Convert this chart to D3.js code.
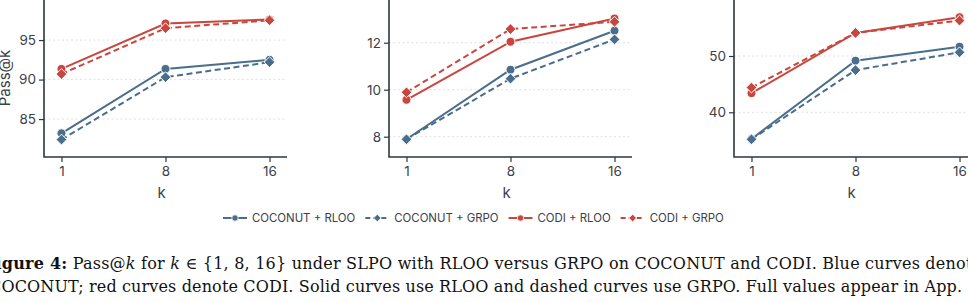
<!DOCTYPE html>
<html>
<head>
<meta charset="utf-8">
<script src="https://cdn.jsdelivr.net/npm/d3@7"></script>
<style>
  body { margin: 0; background: #fff; }
  svg { display: block; }
</style>
</head>
<body>
<div id="chart"></div>
<script>
// Chart size (same as the window)
var svgWidth = 968;
var svgHeight = 302;

// k values on the x axis
var ks = [1, 8, 16];

// Series names (legend order)
var seriesNames = ["COCONUT + RLOO", "COCONUT + GRPO", "CODI + RLOO", "CODI + GRPO"];

// Panel 1 values
var p1CoconutRloo = [83.2, 91.35, 92.5];
var p1CoconutGrpo = [82.4, 90.3, 92.2];
var p1CodiRloo = [91.35, 97.1, 97.6];
var p1CodiGrpo = [90.7, 96.5, 97.5];
var p1Ticks = [85, 90, 95];

// Panel 2 values
var p2CoconutRloo = [7.89, 10.85, 12.51];
var p2CoconutGrpo = [7.89, 10.47, 12.14];
var p2CodiRloo = [9.57, 12.04, 13.03];
var p2CodiGrpo = [9.89, 12.58, 12.89];
var p2Ticks = [8, 10, 12];

// Panel 3 values
var p3CoconutRloo = [35.26, 49.17, 51.65];
var p3CoconutGrpo = [35.2, 47.5, 50.65];
var p3CodiRloo = [43.4, 54.1, 56.9];
var p3CodiGrpo = [44.4, 54.1, 56.3];
var p3Ticks = [40, 50];

var blue = "#4a6d8c";
var red = "#c9463e";
var axisColor = "#2f3640";
var textColor = "#3d4148";
var sansFont = "Inter, 'Noto Sans', sans-serif";

// style of each series: colour, dashed or not, marker
var styles = [
  {color: blue, dash: null, marker: "circle"},
  {color: blue, dash: "6,3.5", marker: "diamond"},
  {color: red, dash: null, marker: "circle"},
  {color: red, dash: "6,3.5", marker: "diamond"}
];

var panels = [
  {left: 44, series: [p1CoconutRloo, p1CoconutGrpo, p1CodiRloo, p1CodiGrpo], domain: [80.2, 100.07], ticks: p1Ticks, ylabel: true},
  {left: 389, series: [p2CoconutRloo, p2CoconutGrpo, p2CodiRloo, p2CodiGrpo], domain: [7.136, 13.817], ticks: p2Ticks, ylabel: false},
  {left: 734, series: [p3CoconutRloo, p3CoconutGrpo, p3CodiRloo, p3CodiGrpo], domain: [32.06, 59.95], ticks: p3Ticks, ylabel: false}
];

var plotWidth = 243;
var plotBottom = 157;

var svg = d3.select("#chart").append("svg")
  .attr("width", svgWidth).attr("height", svgHeight);

function diamondPath(s) {
  return "M0," + (-s) + "L" + s + ",0L0," + s + "L" + (-s) + ",0Z";
}

function drawMarker(g, type, color) {
  if (type === "circle") {
    return g.append("circle").attr("r", 4.5)
      .attr("fill", color).attr("stroke", "#fff").attr("stroke-width", 1);
  }
  return g.append("path").attr("d", diamondPath(5.4))
    .attr("fill", color).attr("stroke", "#fff").attr("stroke-width", 1);
}

panels.forEach(function(p) {
  var g = svg.append("g").attr("transform", `translate(${p.left}, 0)`);

  var x = d3.scalePoint().domain(ks).range([0, plotWidth]).padding(0.168);
  var y = d3.scaleLinear().domain(p.domain).range([plotBottom, 0]);

  // dotted grid lines
  g.selectAll(".grid").data(p.ticks).enter().append("line")
    .attr("x1", 0).attr("x2", plotWidth)
    .attr("y1", d => y(d)).attr("y2", d => y(d))
    .attr("stroke", "#dcdcdc").attr("stroke-width", 0.9)
    .attr("stroke-dasharray", "2,2.5");

  // axes
  var yAxis = d3.axisLeft(y).tickValues(p.ticks).tickFormat(d3.format("d"))
    .tickSize(5).tickPadding(3);
  var yAxisDraw = g.append("g").call(yAxis);
  yAxisDraw.select(".domain").remove();

  var xAxis = d3.axisBottom(x).tickSize(5).tickPadding(4);
  var xAxisDraw = g.append("g").attr("transform", `translate(0, ${plotBottom})`).call(xAxis);
  xAxisDraw.select(".domain").remove();

  [yAxisDraw, xAxisDraw].forEach(function(a) {
    a.selectAll(".tick line").attr("stroke", axisColor).attr("stroke-width", 1.2);
    a.selectAll(".tick text").attr("fill", textColor)
      .style("font-family", sansFont).style("font-size", "13.5px");
  });

  // the L-shaped frame
  g.append("path")
    .attr("d", `M0,-10V${plotBottom}H${plotWidth}`)
    .attr("fill", "none").attr("stroke", axisColor).attr("stroke-width", 1.6);

  // x label
  g.append("text").attr("x", plotWidth / 2 - 4).attr("y", 197.5)
    .attr("text-anchor", "middle").attr("fill", textColor)
    .style("font-family", sansFont).style("font-size", "15px")
    .text("k");

  if (p.ylabel) {
    g.append("text")
      .attr("transform", `translate(${-34}, 78) rotate(-90)`)
      .attr("text-anchor", "middle").attr("fill", textColor)
      .style("font-family", sansFont).style("font-size", "15px")
      .text("Pass@k");
  }

  // lines and markers
  var line = d3.line().x((d, i) => x(ks[i])).y(d => y(d));
  p.series.forEach(function(values, si) {
    var st = styles[si];
    g.append("path").datum(values)
      .attr("d", line).attr("fill", "none")
      .attr("stroke", st.color).attr("stroke-width", 2)
      .attr("stroke-dasharray", st.dash);
    values.forEach(function(v, i) {
      var m = g.append("g").attr("transform", `translate(${x(ks[i])}, ${y(v)})`);
      drawMarker(m, st.marker, st.color);
    });
  });
});

// legend
var legend = svg.append("g").attr("transform", "translate(223, 218)");
var lx = 0;
seriesNames.forEach(function(name, i) {
  var st = styles[i];
  var item = legend.append("g").attr("transform", `translate(${lx}, 0)`);
  item.append("line").attr("x1", 0).attr("x2", 24).attr("y1", 0).attr("y2", 0)
    .attr("stroke", st.color).attr("stroke-width", 2)
    .attr("stroke-dasharray", st.dash ? "5,3" : null);
  var m = item.append("g").attr("transform", "translate(12, 0)");
  if (st.marker === "circle") {
    m.append("circle").attr("r", 3.2).attr("fill", st.color).attr("stroke", "#fff").attr("stroke-width", 0.8);
  } else {
    m.append("path").attr("d", diamondPath(3.8)).attr("fill", st.color).attr("stroke", "#fff").attr("stroke-width", 0.8);
  }
  var t = item.append("text").attr("x", 29).attr("y", 4.3)
    .attr("fill", textColor)
    .style("font-family", sansFont).style("font-size", "11.4px")
    .text(name);
  lx += 29 + t.node().getComputedTextLength() + 10;
});

// caption (cropped at both sides, as in the page)
var capFont = "'DejaVu Serif', 'Liberation Serif', serif";
var cap1 = svg.append("text").attr("x", -16).attr("y", 269)
  .attr("fill", "#111").style("font-family", capFont).style("font-size", "16px");
cap1.append("tspan").style("font-weight", "bold").text("Figure 4:");
cap1.append("tspan").text(" Pass@");
cap1.append("tspan").style("font-style", "italic").text("k");
cap1.append("tspan").text(" for ");
cap1.append("tspan").style("font-style", "italic").text("k");
cap1.append("tspan").text(" \u2208 {1, 8, 16} under SLPO with RLOO versus GRPO on COCONUT and CODI. Blue curves denote");
cap1.attr("textLength", 998).attr("lengthAdjust", "spacing");

var cap2 = svg.append("text").attr("x", -11).attr("y", 292)
  .attr("fill", "#111").style("font-family", capFont).style("font-size", "16px")
  .text("COCONUT; red curves denote CODI. Solid curves use RLOO and dashed curves use GRPO. Full values appear in App.");
cap2.attr("textLength", 973).attr("lengthAdjust", "spacing");
</script>
</body>
</html>
